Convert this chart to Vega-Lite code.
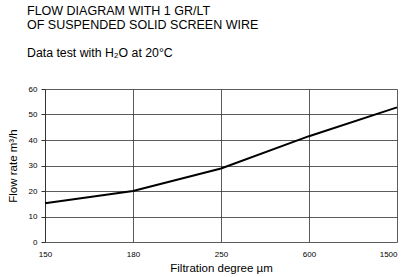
{
  "$schema": "https://vega.github.io/schema/vega-lite/v6.json",
  "width": 352,
  "height": 153,
  "autosize": "none",
  "padding": {"left": 45, "top": 89, "right": 7, "bottom": 35},
  "background": "white",
  "title": {
    "text": ["FLOW DIAGRAM WITH 1 GR/LT", "OF SUSPENDED SOLID SCREEN WIRE"],
    "subtitle": "Data test with H₂O at 20°C",
    "anchor": "start",
    "frame": "group",
    "dx": -18,
    "offset": 26,
    "font": "Liberation Sans",
    "fontSize": 12.5,
    "fontWeight": "normal",
    "lineHeight": 14,
    "color": "black",
    "subtitleFont": "Liberation Sans",
    "subtitleFontSize": 12.3,
    "subtitleColor": "black",
    "subtitlePadding": 15
  },
  "data": {
    "values": [
      {"degree": "150", "flow": 15.2},
      {"degree": "180", "flow": 20},
      {"degree": "250", "flow": 28.8},
      {"degree": "600", "flow": 41.5},
      {"degree": "1500", "flow": 52.8}
    ]
  },
  "config": {
    "view": {"stroke": null},
    "axis": {
      "labelFont": "Liberation Sans",
      "titleFont": "Liberation Sans",
      "labelFontSize": 8,
      "titleFontSize": 11.5,
      "titleFontWeight": "normal",
      "labelColor": "black",
      "titleColor": "black",
      "gridColor": "#333",
      "gridOpacity": 0.8,
      "domainColor": "#333",
      "tickColor": "#333"
    }
  },
  "mark": {"type": "line", "color": "black", "strokeWidth": 2},
  "encoding": {
    "x": {
      "field": "degree",
      "type": "ordinal",
      "sort": null,
      "scale": {"type": "point", "padding": 0},
      "axis": {
        "title": "Filtration degree µm",
        "labelAngle": 0,
        "labelAlign": {"condition": {"test": "datum.value == '1500'", "value": "right"}, "value": "center"},
        "grid": true,
        "domain": false,
        "ticks": false,
        "labelPadding": 8,
        "titlePadding": 4
      }
    },
    "y": {
      "field": "flow",
      "type": "quantitative",
      "scale": {"domain": [0, 60]},
      "axis": {
        "title": "Flow rate m³/h",
        "values": [0, 10, 20, 30, 40, 50, 60],
        "grid": true,
        "domain": true,
        "tickSize": 4,
        "labelPadding": 4,
        "titlePadding": 10
      }
    }
  }
}
